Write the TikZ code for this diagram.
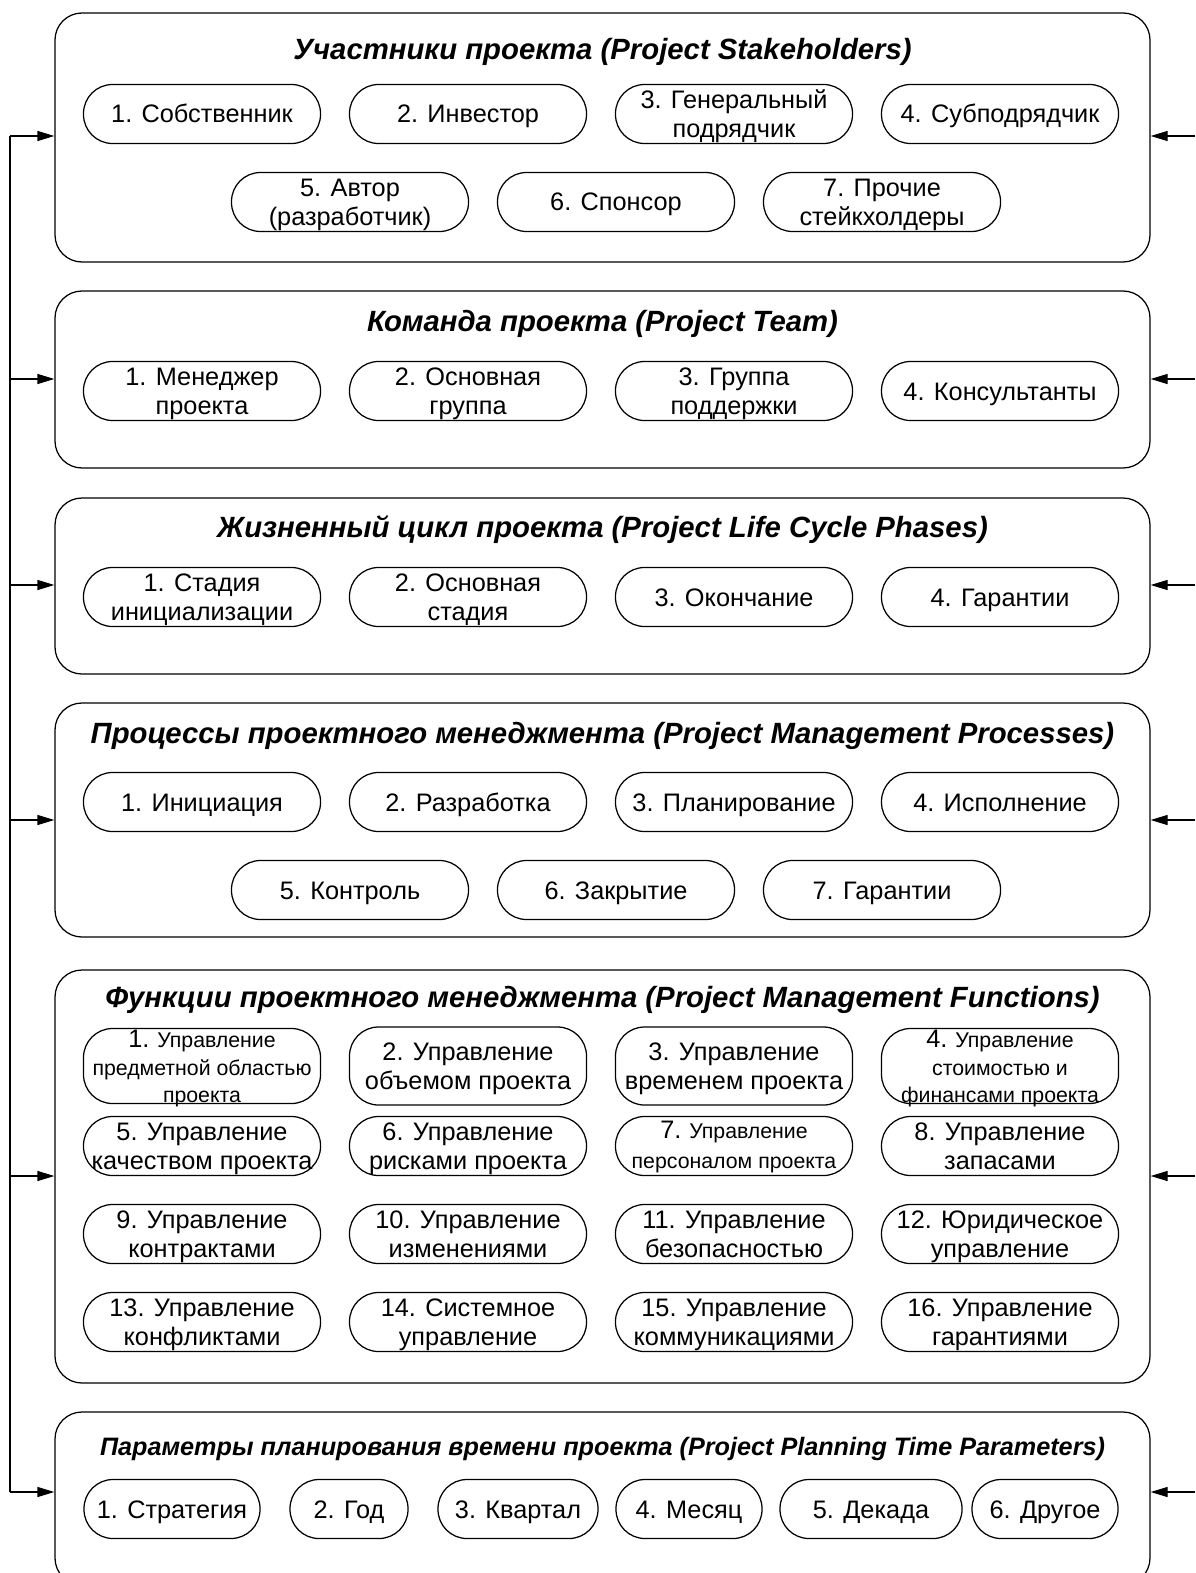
\documentclass[tikz,border=0pt]{standalone}
\usepackage{fontspec}
\setmainfont{Liberation Sans}
\usetikzlibrary{arrows.meta}

\tikzset{
  every picture/.style={line width=1.25pt},
  groupbox/.style={draw, rounded corners=27pt, minimum width=1095pt, inner sep=0pt},
  grouptitle/.style={anchor=base, inner sep=0pt, font=\fontsize{29.3}{34}\selectfont\bfseries\itshape},
  % the text box sits on its last baseline; height and depth are set so that
  % the lines are centred on the capsule
  pill/.style={draw, rounded corners=29pt, minimum width=237pt, minimum height=59pt,
    inner sep=1pt, align=center, font=\fontsize{25.3}{29}\selectfont,
    text height=18pt, text depth=0pt},
  twoline/.style={text height=47pt, text depth=0pt},
  tallpill/.style={pill, minimum height=78pt},
  smallpill/.style={pill, font=\fontsize{21.3}{27.5}\selectfont, text height=73pt, text depth=0pt},
  smalltwo/.style={pill, font=\fontsize{21.3}{30}\selectfont, text height=45pt, text depth=0pt},
  feed/.style={-{Triangle[length=17pt,width=10pt]}}
}
\newcommand{\bignum}[1]{{\fontsize{25.3}{27.5}\selectfont #1}}

\begin{document}
\begin{tikzpicture}[x=1pt,y=-1pt]
\clip (0,0) rectangle (1195,1573);

% group frames
\node[groupbox, minimum height=249pt] (b1) at (602.5,137.5) {};
\node[groupbox, minimum height=177pt] (b2) at (602.5,379.5) {};
\node[groupbox, minimum height=176pt] (b3) at (602.5,586) {};
\node[groupbox, minimum height=234pt] (b4) at (602.5,820) {};
\node[groupbox, minimum height=413pt] (b5) at (602.5,1176.5) {};
\node[groupbox, minimum height=173pt] (b6) at (602.5,1498.5) {};

% titles
\node[grouptitle] (t1) at (602.5,59.5) {Участники проекта (Project Stakeholders)};
\node[grouptitle] (t2) at (602.5,331) {Команда проекта (Project Team)};
\node[grouptitle] (t3) at (602.5,537) {Жизненный цикл проекта (Project Life Cycle Phases)};
\node[grouptitle] (t4) at (602.5,743) {Процессы проектного менеджмента (Project Management Processes)};
\node[grouptitle] (t5) at (602.5,1007) {Функции проектного менеджмента (Project Management Functions)};
\node[grouptitle, font=\fontsize{25.2}{30}\selectfont\bfseries\itshape] (t6) at (602.5,1455)
  {Параметры планирования времени проекта (Project Planning Time Parameters)};

% stakeholders
\node[pill] (s1) at (202,114) {1. Собственник};
\node[pill] (s2) at (468,114) {2. Инвестор};
\node[pill, twoline] (s3) at (734,114) {3. Генеральный\\подрядчик};
\node[pill] (s4) at (1000,114) {4. Субподрядчик};
\node[pill, twoline] (s5) at (350,202) {5. Автор\\(разработчик)};
\node[pill] (s6) at (616,202) {6. Спонсор};
\node[pill, twoline] (s7) at (882,202) {7. Прочие\\стейкхолдеры};

% team
\node[pill, twoline] (m1) at (202,391) {1. Менеджер\\проекта};
\node[pill, twoline] (m2) at (468,391) {2. Основная\\группа};
\node[pill, twoline] (m3) at (734,391) {3. Группа\\поддержки};
\node[pill] (m4) at (1000,391) {4. Консультанты};

% life cycle
\node[pill, twoline] (c1) at (202,597) {1. Стадия\\инициализации};
\node[pill, twoline] (c2) at (468,597) {2. Основная\\стадия};
\node[pill] (c3) at (734,597) {3. Окончание};
\node[pill] (c4) at (1000,597) {4. Гарантии};

% processes
\node[pill] (p1) at (202,802) {1. Инициация};
\node[pill] (p2) at (468,802) {2. Разработка};
\node[pill] (p3) at (734,802) {3. Планирование};
\node[pill] (p4) at (1000,802) {4. Исполнение};
\node[pill] (p5) at (350,890) {5. Контроль};
\node[pill] (p6) at (616,890) {6. Закрытие};
\node[pill] (p7) at (882,890) {7. Гарантии};

% functions
\node[tallpill, smallpill] (f1) at (202,1066) {\bignum{1.} Управление\\предметной областью\\проекта};
\node[tallpill, twoline] (f2) at (468,1066) {2. Управление\\объемом проекта};
\node[tallpill, twoline] (f3) at (734,1066) {3. Управление\\временем проекта};
\node[tallpill, smallpill] (f4) at (1000,1066) {\bignum{4.} Управление\\стоимостью и\\финансами проекта};
\node[pill, twoline] (f5) at (202,1146) {5. Управление\\качеством проекта};
\node[pill, twoline] (f6) at (468,1146) {6. Управление\\рисками проекта};
\node[smalltwo] (f7) at (734,1146) {\bignum{7.} Управление\\персоналом проекта};
\node[pill, twoline] (f8) at (1000,1146) {8. Управление\\запасами};
\node[pill, twoline] (f9) at (202,1234) {9. Управление\\контрактами};
\node[pill, twoline] (f10) at (468,1234) {10. Управление\\изменениями};
\node[pill, twoline] (f11) at (734,1234) {11. Управление\\безопасностью};
\node[pill, twoline] (f12) at (1000,1234) {12. Юридическое\\управление};
\node[pill, twoline] (f13) at (202,1322) {13. Управление\\конфликтами};
\node[pill, twoline] (f14) at (468,1322) {14. Системное\\управление};
\node[pill, twoline] (f15) at (734,1322) {15. Управление\\коммуникациями};
\node[pill, twoline] (f16) at (1000,1322) {16. Управление\\гарантиями};

% planning time parameters
\node[pill, minimum width=176pt] (q1) at (172,1509) {1. Стратегия};
\node[pill, minimum width=118pt] (q2) at (349,1509) {2. Год};
\node[pill, minimum width=160pt] (q3) at (518,1509) {3. Квартал};
\node[pill, minimum width=146pt] (q4) at (689,1509) {4. Месяц};
\node[pill, minimum width=182pt] (q5) at (871,1509) {5. Декада};
\node[pill, minimum width=146pt] (q6) at (1045,1509) {6. Другое};

% left feed bus
\coordinate (L1) at (10,136);
\coordinate (L2) at (10,379);
\coordinate (L3) at (10,585);
\coordinate (L4) at (10,820);
\coordinate (L5) at (10,1176);
\coordinate (L6) at (10,1492);
\draw (L1) -- (L6);
\foreach \i in {1,...,6} \draw[feed] (L\i) -- (L\i -| b\i.west);

% right feeds
\coordinate (R1) at (1195,136);
\coordinate (R2) at (1195,379);
\coordinate (R3) at (1195,585);
\coordinate (R4) at (1195,820);
\coordinate (R5) at (1195,1176);
\coordinate (R6) at (1195,1492);
\foreach \i in {1,...,6} \draw[feed] (R\i) -- (R\i -| b\i.east);
\end{tikzpicture}
\end{document}
